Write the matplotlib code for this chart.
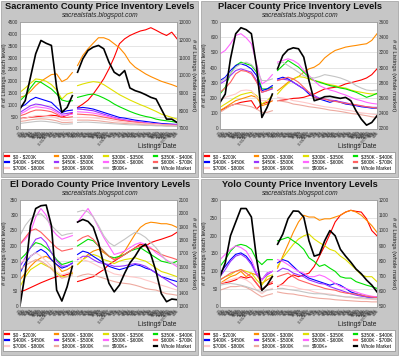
import datetime
import numpy as np
import matplotlib
matplotlib.use("Agg")
import matplotlib.pyplot as plt
from matplotlib.lines import Line2D
from matplotlib.patches import Rectangle

plt.rcParams['font.family'] = ['Liberation Sans', 'DejaVu Sans']

# ---------------- data ----------------
SERIES = ["$0 - $200K", "$200K - $300K", "$300K - $350K", "$350K - $400K",
          "$400K - $450K", "$450K - $500K", "$500K - $600K", "$600K - $700K",
          "$700K - $800K", "$800K - $900K", "$900K+", "Whole Market"]
COLORS = ["#ff0000", "#ff8c00", "#e0e000", "#00e000", "#0000ff", "#9933ff",
          "#ff66ff", "#ff6060", "#ffc8c8", "#eeaaa0", "#c4c4c4", "#000000"]

# x index of each listing date; the data has a gap between index 10 and 11
GAP_AFTER = 10
N_POINTS = 31

# Sacramento County
sac_under200 = [420, 450, 480, 500, 520, 540, 560, 540, 480, 560, 650,
                890, 1030, 1200, 1460, 1770, 2100, 2520, 3010, 3580, 3790, 3930, 4030, 4120, 4170, 4260, 4150, 4030, 3930, 4070, 3790]
sac_200_300 = [1316, 1387, 1571, 1811, 1995, 2137, 2278, 2306, 1981, 2094, 2363,
               2660, 3085, 3368, 3608, 3835, 3835, 3750, 3580, 3410, 3155, 2801, 2589, 2448, 2306, 2193, 2094, 1995, 1924, 1854, 1769]
sac_300_350 = [1528, 1712, 1910, 2094, 2066, 1995, 1854, 1627, 1245, 1457, 1528,
               1811, 1882, 1938, 1981, 1953, 1854, 1712, 1571, 1429, 1316, 1203, 1104, 1005, 920, 821, 722, 608, 538, 467, 396]
sac_350_400 = [1175, 1387, 1712, 1995, 1953, 1811, 1670, 1457, 1203, 1146, 1175,
               1316, 1373, 1429, 1457, 1387, 1288, 1175, 1033, 920, 821, 722, 637, 566, 509, 467, 396, 354, 325, 297, 255]
sac_400_450 = [891, 1005, 1203, 1316, 1245, 1175, 1104, 891, 679, 750, 778,
               863, 891, 863, 821, 750, 679, 608, 538, 467, 439, 396, 354, 325, 297, 269, 241, 212, 198, 184, 170]
sac_450_500 = [679, 821, 962, 1033, 1005, 948, 891, 750, 608, 637, 679,
               821, 807, 778, 750, 679, 608, 538, 467, 410, 368, 325, 297, 269, 241, 212, 198, 184, 170, 156, 156]
sac_500_600 = [608, 722, 863, 920, 891, 863, 807, 679, 538, 566, 608,
               708, 693, 679, 651, 608, 552, 495, 439, 382, 354, 311, 283, 255, 226, 212, 184, 170, 156, 142, 142]
sac_600_700 = [538, 608, 708, 778, 778, 750, 708, 608, 467, 467, 495,
               608, 594, 580, 566, 524, 481, 439, 396, 354, 325, 297, 269, 241, 212, 198, 184, 170, 156, 142, 127]
sac_700_800 = [396, 439, 495, 538, 552, 538, 509, 439, 354, 354, 368,
               467, 467, 467, 453, 424, 396, 368, 325, 297, 269, 241, 226, 212, 198, 184, 170, 156, 142, 127, 113]
sac_800_900 = [297, 325, 368, 396, 410, 396, 368, 325, 255, 255, 269,
               354, 354, 354, 340, 325, 297, 269, 241, 226, 212, 198, 184, 170, 156, 142, 127, 127, 113, 113, 99]
sac_900plus = [212, 241, 269, 297, 311, 297, 269, 241, 184, 184, 198,
               255, 269, 269, 255, 241, 226, 212, 198, 184, 170, 156, 156, 142, 127, 127, 113, 113, 99, 99, 85]
sac_whole = [8100, 8570, 9890, 11210, 11960, 11800, 11680, 9320, 7910, 8190, 8850,
             10170, 10925, 11397, 11585, 11680, 11491, 10736, 10170, 9981, 10264, 9283, 9132, 9038, 8906, 8755, 8660, 8094, 7528, 7528, 7340]

# Placer County
pla_under200 = [117, 134, 150, 161, 172, 178, 183, 128, 161, 172, 183,
                183, 187, 191, 198, 200, 205, 216, 227, 244, 260, 266, 271, 279, 293, 301, 310, 319, 332, 354, 392]
pla_200_300 = [117, 139, 161, 183, 194, 205, 216, 205, 150, 161, 183,
               249, 275, 304, 326, 341, 370, 392, 403, 425, 464, 491, 513, 524, 535, 541, 546, 552, 557, 579, 623]
pla_300_350 = [139, 161, 183, 205, 222, 231, 238, 216, 161, 183, 216,
               227, 266, 297, 326, 341, 337, 326, 315, 308, 297, 288, 282, 271, 266, 253, 244, 238, 231, 227, 227]
pla_350_400 = [227, 271, 359, 414, 436, 425, 414, 370, 260, 260, 271,
               381, 414, 447, 425, 403, 370, 337, 315, 304, 293, 282, 275, 266, 260, 249, 238, 222, 205, 216, 231]
pla_400_450 = [315, 337, 381, 414, 425, 414, 392, 348, 249, 260, 282,
               326, 337, 326, 304, 282, 260, 227, 205, 194, 183, 172, 183, 172, 161, 156, 150, 143, 139, 134, 134]
pla_450_500 = [293, 315, 348, 381, 392, 381, 370, 315, 238, 249, 260,
               319, 324, 319, 304, 282, 260, 238, 216, 200, 194, 187, 183, 176, 169, 161, 154, 147, 143, 139, 139]
pla_500_600 = [491, 513, 557, 612, 623, 596, 557, 425, 293, 315, 354,
               436, 447, 458, 447, 425, 381, 348, 315, 282, 266, 253, 244, 231, 220, 205, 191, 183, 172, 165, 161]
pla_600_700 = [238, 266, 304, 359, 381, 376, 359, 304, 238, 249, 266,
               315, 326, 337, 326, 304, 271, 238, 205, 194, 194, 183, 178, 172, 165, 161, 156, 150, 143, 139, 134]
pla_700_800 = [183, 205, 216, 227, 249, 253, 249, 205, 183, 183, 187,
               205, 200, 194, 183, 178, 172, 165, 156, 150, 143, 139, 134, 128, 121, 117, 110, 103, 99, 95, 90]
pla_800_900 = [106, 128, 150, 161, 156, 150, 143, 128, 106, 106, 117,
               183, 178, 172, 161, 156, 150, 143, 139, 134, 128, 121, 117, 112, 106, 99, 95, 90, 84, 77, 73]
pla_900plus = [304, 330, 359, 403, 425, 436, 420, 381, 315, 315, 326,
               425, 436, 414, 392, 370, 348, 337, 332, 341, 354, 348, 341, 332, 319, 304, 282, 266, 253, 249, 253]
pla_whole = [2543, 2653, 3116, 3446, 3525, 3499, 3446, 3006, 2345, 2477, 2653,
             2984, 3160, 3235, 3261, 3248, 3138, 2830, 2565, 2587, 2618, 2623, 2609, 2596, 2609, 2565, 2433, 2323, 2244, 2279, 2367]

# El Dorado County
eld_under200 = [48, 54, 62, 70, 78, 85, 92, 98, 100, 105, 110,
                82, 87, 93, 98, 110, 121, 138, 149, 160, 171, 182, 193, 205, 199, 210, 216, 221, 227, 233, 244]
eld_200_300 = [87, 110, 132, 149, 160, 165, 154, 138, 115, 121, 132,
               138, 154, 171, 182, 188, 177, 165, 154, 165, 182, 210, 238, 260, 272, 277, 275, 272, 272, 268, 260]
eld_300_350 = [65, 98, 121, 132, 143, 134, 126, 110, 98, 98, 110,
               138, 154, 165, 171, 165, 154, 149, 141, 149, 154, 157, 160, 154, 149, 138, 126, 115, 110, 104, 98]
eld_350_400 = [154, 171, 193, 210, 205, 193, 177, 154, 138, 143, 149,
               199, 210, 221, 216, 199, 182, 165, 160, 165, 171, 182, 188, 193, 182, 171, 160, 149, 145, 141, 149]
eld_400_450 = [110, 143, 165, 177, 188, 177, 154, 138, 126, 132, 143,
               171, 182, 177, 165, 154, 143, 132, 126, 121, 126, 132, 138, 134, 126, 121, 110, 98, 93, 87, 82]
eld_450_500 = [132, 160, 193, 221, 227, 210, 177, 149, 132, 134, 141,
               154, 165, 165, 154, 145, 141, 138, 132, 132, 134, 138, 141, 138, 132, 121, 110, 98, 87, 76, 65]
eld_500_600 = [205, 221, 244, 294, 322, 300, 255, 235, 221, 227, 233,
               277, 300, 322, 294, 260, 227, 199, 171, 176, 182, 193, 204, 210, 204, 193, 176, 165, 153, 142, 131]
eld_600_700 = [205, 227, 249, 255, 244, 227, 210, 193, 182, 186, 190,
               216, 227, 233, 221, 199, 182, 165, 154, 160, 171, 182, 193, 199, 197, 190, 182, 171, 165, 160, 154]
eld_700_800 = [143, 154, 165, 177, 165, 149, 132, 115, 104, 110, 115,
               160, 154, 149, 141, 132, 123, 115, 107, 104, 101, 98, 96, 93, 87, 82, 76, 70, 65, 59, 54]
eld_800_900 = [121, 134, 145, 154, 149, 138, 123, 104, 93, 98, 104,
               98, 104, 107, 104, 98, 93, 87, 82, 78, 76, 74, 70, 65, 59, 56, 54, 48, 42, 40, 37]
eld_900plus = [233, 266, 288, 300, 305, 288, 266, 249, 233, 238, 241,
               311, 316, 311, 294, 266, 233, 210, 199, 210, 221, 233, 244, 238, 227, 210, 193, 171, 149, 143, 138]
eld_whole = [1308, 1550, 1908, 2036, 2057, 2062, 1908, 1423, 1341, 1448, 1602,
             1934, 1954, 1939, 1896, 1780, 1614, 1474, 1410, 1461, 1550, 1627, 1678, 1742, 1768, 1691, 1563, 1397, 1336, 1356, 1351]

# Yolo County
yolo_under200 = [65, 67, 70, 75, 84, 80, 84, 65, 46, 60, 65,
                 56, 65, 80, 89, 84, 89, 94, 113, 142, 171, 204, 238, 257, 266, 271, 268, 266, 247, 214, 199]
yolo_200_300 = [65, 75, 84, 89, 99, 84, 94, 89, 65, 75, 84,
                108, 142, 175, 209, 238, 257, 252, 252, 243, 247, 247, 252, 257, 266, 271, 266, 257, 243, 228, 209]
yolo_300_350 = [75, 84, 89, 99, 104, 99, 94, 75, 60, 84, 89,
                113, 137, 156, 175, 190, 199, 204, 190, 180, 171, 161, 156, 142, 132, 118, 104, 89, 84, 84, 70]
yolo_350_400 = [113, 132, 156, 171, 175, 171, 161, 132, 118, 132, 132,
                185, 190, 195, 185, 175, 161, 137, 127, 113, 118, 108, 99, 84, 80, 80, 70, 65, 60, 56, 51]
yolo_400_450 = [94, 113, 132, 147, 151, 142, 123, 94, 75, 94, 99,
                123, 132, 127, 113, 99, 89, 80, 75, 70, 65, 60, 65, 60, 51, 41, 36, 32, 27, 25, 27]
yolo_450_500 = [84, 104, 127, 142, 147, 137, 118, 89, 75, 89, 99,
                99, 108, 104, 94, 89, 84, 75, 70, 65, 63, 56, 51, 46, 41, 36, 32, 29, 27, 25, 25]
yolo_500_600 = [132, 147, 161, 171, 166, 156, 132, 94, 75, 94, 99,
                132, 127, 118, 108, 99, 94, 84, 84, 89, 84, 75, 65, 56, 51, 46, 41, 36, 32, 29, 27]
yolo_600_700 = [75, 84, 94, 99, 104, 94, 84, 65, 46, 60, 70,
                84, 89, 94, 84, 75, 70, 65, 60, 56, 51, 48, 46, 41, 38, 36, 35, 32, 29, 27, 25]
yolo_700_800 = [65, 70, 75, 80, 80, 75, 65, 46, 36, 46, 51,
                60, 60, 58, 56, 51, 48, 46, 41, 38, 36, 35, 32, 29, 27, 25, 23, 22, 21, 20, 19]
yolo_800_900 = [46, 51, 56, 56, 58, 54, 46, 36, 27, 32, 36,
                41, 38, 36, 35, 32, 30, 27, 25, 23, 22, 21, 19, 18, 17, 16, 15, 14, 14, 13, 13]
yolo_900plus = [60, 63, 65, 63, 60, 56, 51, 46, 41, 46, 48,
                51, 51, 48, 46, 44, 41, 38, 36, 36, 35, 32, 31, 29, 27, 27, 25, 25, 23, 22, 21]
yolo_whole = [697, 786, 965, 1055, 1144, 1144, 1088, 809, 607, 641, 697,
              909, 976, 1077, 1128, 1126, 1088, 932, 831, 842, 932, 999, 965, 876, 831, 791, 746, 715, 674, 641, 596]

# listing-date tick labels (four per data step)
TICK_STEP = 0.25
TICK_START = datetime.date(2005, 7, 9)
TICK_DATES = [TICK_START + datetime.timedelta(days=8 * k) for k in range(121)]
TICK_LABELS = []
for k, d in enumerate(TICK_DATES):
    if k > 0 and d.year != TICK_DATES[k - 1].year:
        TICK_LABELS.append(d.strftime("%m/%d/%Y"))
    else:
        TICK_LABELS.append(f"{d.month}/{d.day}")

PANELS = [
    dict(title="Sacramento County Price Inventory Levels", ox=0, oy=0,
         levels=[sac_under200, sac_200_300, sac_300_350, sac_350_400, sac_400_450, sac_450_500,
                 sac_500_600, sac_600_700, sac_700_800, sac_800_900, sac_900plus],
         whole=sac_whole, left=(0, 4500, 500), right=(7000, 13000, 1000), legend_whole="#707070"),
    dict(title="Placer County Price Inventory Levels", ox=200, oy=0,
         levels=[pla_under200, pla_200_300, pla_300_350, pla_350_400, pla_400_450, pla_450_500,
                 pla_500_600, pla_600_700, pla_700_800, pla_800_900, pla_900plus],
         whole=pla_whole, left=(0, 700, 100), right=(2200, 3600, 200), legend_whole="#707070"),
    dict(title="El Dorado County Price Inventory Levels", ox=0, oy=178,
         levels=[eld_under200, eld_200_300, eld_300_350, eld_350_400, eld_400_450, eld_450_500,
                 eld_500_600, eld_600_700, eld_700_800, eld_800_900, eld_900plus],
         whole=eld_whole, left=(0, 350, 50), right=(1300, 2100, 100), legend_whole="#000000"),
    dict(title="Yolo County Price Inventory Levels", ox=200, oy=178,
         levels=[yolo_under200, yolo_200_300, yolo_300_350, yolo_350_400, yolo_400_450, yolo_450_500,
                 yolo_500_600, yolo_600_700, yolo_700_800, yolo_800_900, yolo_900plus],
         whole=yolo_whole, left=(0, 300, 50), right=(500, 1200, 100), legend_whole="#000000"),
]

# ---------------- drawing ----------------
W, H = 400, 356
fig = plt.figure(figsize=(W / 100, H / 100), dpi=100, facecolor="white")


def frac(x, y, w, h):
    return [x / W, 1 - (y + h) / H, w / W, h / H]


def with_gap(vals):
    return np.insert(np.asarray(vals, dtype=float), GAP_AFTER + 1, np.nan)


x = with_gap(np.arange(N_POINTS))
tick_pos = np.arange(len(TICK_LABELS)) * TICK_STEP
esc = [s.replace("$", r"\$") for s in SERIES]
order = [r * 4 + c for c in range(4) for r in range(3)]

for p in PANELS:
    ox, oy = p["ox"], p["oy"]
    r = frac(ox + 1, oy + 1, 197, 176)
    fig.add_artist(Rectangle((r[0], r[1]), r[2], r[3], transform=fig.transFigure,
                             facecolor="#c6c6c6", edgecolor="#a8a8a8", lw=0.6, zorder=0))

    ax = fig.add_axes(frac(ox + 20, oy + 22, 157, 106.5))
    ax.set_facecolor("white")
    for vals, col in zip(p["levels"], COLORS[:11]):
        ax.plot(x, with_gap(vals), color=col, lw=0.8, solid_joinstyle="round")
    lo, hi, st = p["left"]
    ax.set_ylim(lo, hi)
    ax.set_yticks(np.arange(lo, hi + st / 2, st))
    ax.set_xlim(0, N_POINTS - 1)
    ax.set_xticks(tick_pos)
    ax.set_xticklabels(TICK_LABELS, rotation=50, ha="right", rotation_mode="anchor",
                       fontsize=2.4, color="#333333")
    ax.tick_params(axis="both", length=0)
    ax.tick_params(axis="x", pad=1.5)
    ax.tick_params(axis="y", labelsize=3.3, pad=1.5, colors="#333333")
    ax.grid(axis="y", color="#dadada", lw=0.5)
    ax.set_axisbelow(True)
    for s in ax.spines.values():
        s.set_color("#a0a0a0")
        s.set_linewidth(0.5)

    ax2 = ax.twinx()
    ax2.plot(x, with_gap(p["whole"]), color="black", lw=1.2, solid_joinstyle="round")
    lo2, hi2, st2 = p["right"]
    ax2.set_ylim(lo2, hi2)
    ax2.set_yticks(np.arange(lo2, hi2 + st2 / 2, st2))
    ax2.tick_params(axis="y", length=0, labelsize=3.3, pad=1.5, colors="#333333")
    for s in ax2.spines.values():
        s.set_color("#a0a0a0")
        s.set_linewidth(0.5)

    fig.text((ox + 100) / W, 1 - (oy + 6.5) / H, p["title"], ha="center", va="center",
             fontsize=6.7, fontweight="bold", color="#111111")
    fig.text((ox + 100) / W, 1 - (oy + 15.5) / H, "sacrealstats.blogspot.com", ha="center",
             va="center", fontsize=4.8, style="italic", color="#222222")
    fig.text((ox + 5) / W, 1 - (oy + 75) / H, "# of Listings (each level)", rotation=90,
             ha="center", va="center", fontsize=4.2, color="#222222")
    fig.text((ox + 193.5) / W, 1 - (oy + 75) / H, "# of Listings (whole market)", rotation=270,
             ha="center", va="center", fontsize=4.2, color="#222222")
    fig.text((ox + 157) / W, 1 - (oy + 146.5) / H, "Listings Date", ha="center", va="center",
             fontsize=4.8, color="#222222")

    leg_colors = COLORS[:11] + [p["legend_whole"]]
    handles = [Line2D([], [], color=c, lw=1.6) for c in leg_colors]
    leg = fig.legend([handles[i] for i in order], [esc[i] for i in order],
                     loc="upper left", bbox_to_anchor=frac(ox + 3, oy + 152, 192, 21),
                     bbox_transform=fig.transFigure, mode="expand", ncol=4,
                     fontsize=3.4, handlelength=0.8, handletextpad=0.8,
                     labelspacing=0.15, borderpad=0.45, borderaxespad=0,
                     frameon=True, fancybox=False, edgecolor="#888888",
                     facecolor="white", framealpha=1)
    leg.get_frame().set_linewidth(0.5)

fig.savefig("out.png", dpi=100, facecolor="white")
